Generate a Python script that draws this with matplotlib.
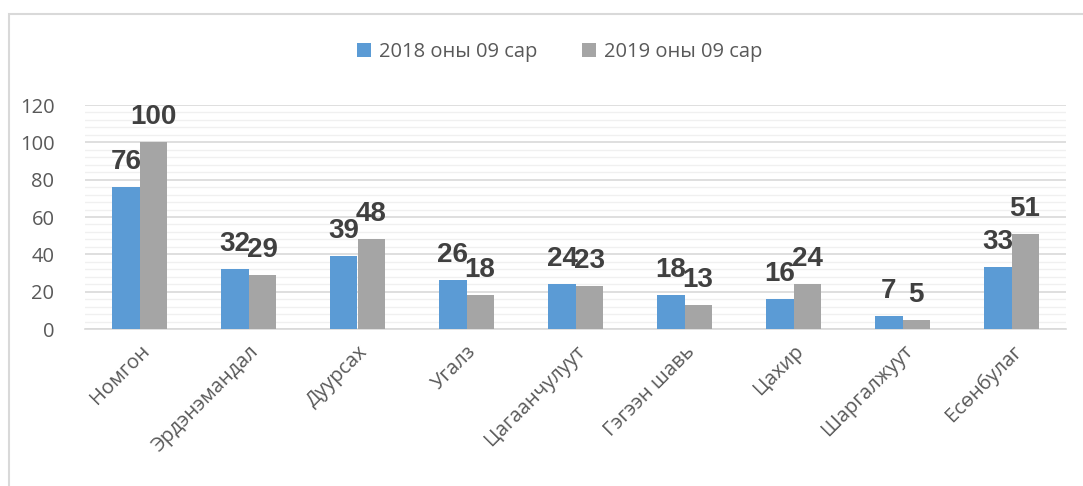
import matplotlib
matplotlib.use('Agg')
import matplotlib.pyplot as plt
import numpy as np
from matplotlib.patches import Rectangle

# data
categories = ['Номгон', 'Эрдэнэмандал', 'Дуурсах', 'Угалз', 'Цагаанчулуут',
              'Гэгээн шавь', 'Цахир', 'Шаргалжуут', 'Есөнбулаг']
values_2018 = [76, 32, 39, 26, 24, 18, 16, 7, 33]
values_2019 = [100, 29, 48, 18, 23, 13, 24, 5, 51]
series_names = ['2018 оны 09 сар', '2019 оны 09 сар']

plt.rcParams['font.family'] = ['Open Sans', 'DejaVu Sans']

fig = plt.figure(figsize=(10.83, 4.86), dpi=100)
ax = fig.add_axes([85 / 1083, (486 - 329) / 486, (1066 - 85) / 1083, 224 / 486])

# chart frame
fig.patches.append(Rectangle((9 / 1083, -0.05), 1.1, (486 - 14) / 486 + 0.05,
                             transform=fig.transFigure, fill=False,
                             edgecolor='#d9d9d9', linewidth=1.5))

x = np.arange(len(categories))
w = 0.248
b1 = ax.bar(x - w / 2, values_2018, w, color='#5b9bd5', label=series_names[0], zorder=3)
b2 = ax.bar(x + w / 2, values_2019, w, color='#a5a5a5', label=series_names[1], zorder=3)

for bars, vals in ((b1, values_2018), (b2, values_2019)):
    for bar, v in zip(bars, vals):
        ax.annotate(str(v), (bar.get_x() + bar.get_width() / 2, v),
                    textcoords='offset points', xytext=(0, 13),
                    ha='center', va='baseline', fontsize=20, fontweight='bold',
                    color='#404040', family='Liberation Sans', zorder=4)

ax.set_xlim(-0.5, len(categories) - 0.5)
ax.set_ylim(0, 120)
ax.set_yticks(range(0, 121, 20))
ax.set_yticks(range(0, 121, 4), minor=True)
ax.grid(axis='y', which='major', color='#d9d9d9', linewidth=1.2, zorder=0)
ax.grid(axis='y', which='minor', color='#f0f0f0', linewidth=1.0, zorder=0)
ax.tick_params(axis='y', which='both', length=0, labelsize=14.5, labelcolor='#595959', pad=22)
ax.tick_params(axis='x', length=0, pad=9)
ax.set_xticks(x)
ax.set_xticklabels(categories, rotation=45, ha='right', rotation_mode='anchor',
                   fontsize=14.5, color='#595959')

for side in ('top', 'right', 'left'):
    ax.spines[side].set_visible(False)
ax.spines['bottom'].set_color('#d9d9d9')
ax.spines['bottom'].set_linewidth(1.2)

fig.legend(loc='center', bbox_to_anchor=(560 / 1083, 1 - 52 / 486), ncol=2,
           frameon=False, fontsize=14.5, labelcolor='#595959',
           handlelength=0.7, handleheight=0.7, handletextpad=0.4, columnspacing=2.2)

plt.savefig('out.png', dpi=100)
plt.close()
